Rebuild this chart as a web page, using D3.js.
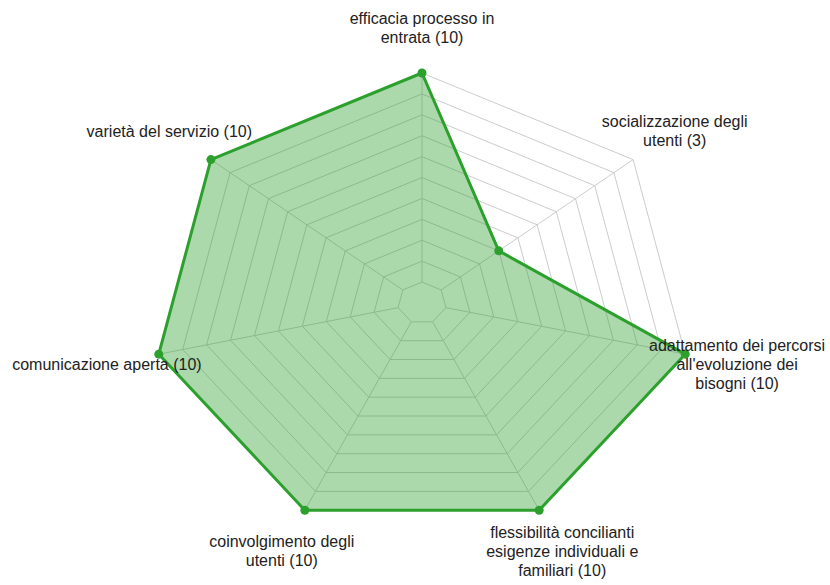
<!DOCTYPE html>
<html>
<head>
<meta charset="utf-8">
<script src="https://cdn.jsdelivr.net/npm/d3@7"></script>
<style>
  html, body { margin: 0; padding: 0; background: #fff; }
  svg { display: block; }
</style>
</head>
<body>
<svg id="chart" width="830" height="585"></svg>
<script>
// ---- data ----
const categories = [
  "efficacia processo in entrata",
  "socializzazione degli utenti",
  "adattamento dei percorsi all'evoluzione dei bisogni",
  "flessibilità concilianti esigenze individuali e familiari",
  "coinvolgimento degli utenti",
  "comunicazione aperta",
  "varietà del servizio"
];
const values = [10, 3, 10, 10, 10, 10, 10];
const labelLines = [
  ["efficacia processo in", "entrata (10)"],
  ["socializzazione degli", "utenti (3)"],
  ["adattamento dei percorsi", "all'evoluzione dei", "bisogni (10)"],
  ["flessibilità concilianti", "esigenze individuali e", "familiari (10)"],
  ["coinvolgimento degli", "utenti (10)"],
  ["comunicazione aperta (10)"],
  ["varietà del servizio (10)"]
];
const gridLevels = [0, 1, 2, 3, 4, 5, 6, 7, 8, 9, 10];
const scaleMin = -1, scaleMax = 10;

// ---- layout ----
const cx = 422, cy = 303, Rx = 270, Ry = 230;
const labelFactor = 1.197;
const lineH = 19;
const green = "#2ca02c";

const svg = d3.select("#chart");
const n = categories.length;
const angle = d3.scaleLinear().domain([0, n]).range([0, 2 * Math.PI]);
const r = d3.scaleLinear().domain([scaleMin, scaleMax]).range([0, 1]);

function pt(i, v) {
  const a = angle(i), f = r(v);
  return [cx + f * Rx * Math.sin(a), cy - f * Ry * Math.cos(a)];
}

const line = d3.line().curve(d3.curveLinearClosed);

// grid rings
const gGrid = svg.append("g");
gGrid.selectAll("path.ring")
  .data(gridLevels)
  .join("path")
  .attr("class", "ring")
  .attr("d", lv => line(d3.range(n).map(i => pt(i, lv))))
  .attr("fill", "none")
  .attr("stroke", "#cccccc")
  .attr("stroke-width", 1);

// spokes
gGrid.selectAll("line.spoke")
  .data(d3.range(n))
  .join("line")
  .attr("class", "spoke")
  .attr("x1", i => pt(i, gridLevels[0])[0])
  .attr("y1", i => pt(i, gridLevels[0])[1])
  .attr("x2", i => pt(i, scaleMax)[0])
  .attr("y2", i => pt(i, scaleMax)[1])
  .attr("stroke", "#cccccc")
  .attr("stroke-width", 1);

// data area
const dataPts = values.map((v, i) => pt(i, v));
svg.append("path")
  .attr("d", line(dataPts))
  .attr("fill", green)
  .attr("fill-opacity", 0.4)
  .attr("stroke", green)
  .attr("stroke-width", 3)
  .attr("stroke-linejoin", "round");

svg.selectAll("circle.dot")
  .data(dataPts)
  .join("circle")
  .attr("class", "dot")
  .attr("cx", d => d[0])
  .attr("cy", d => d[1])
  .attr("r", 4.5)
  .attr("fill", green);

// labels
const gLab = svg.append("g")
  .attr("font-family", "'Liberation Sans', Arial, sans-serif")
  .attr("font-size", 16)
  .attr("fill", "#222");

labelLines.forEach((lines, i) => {
  const a = angle(i);
  const x = cx + labelFactor * Rx * Math.sin(a);
  const y = cy - labelFactor * Ry * Math.cos(a);
  const t = gLab.append("text")
    .attr("text-anchor", "middle")
    .attr("x", x)
    .attr("y", y);
  lines.forEach((s, k) => {
    t.append("tspan")
      .attr("x", x)
      .attr("y", y + (k - (lines.length - 1) / 2) * lineH)
      .attr("dy", "0.35em")
      .text(s);
  });
});
</script>
</body>
</html>
